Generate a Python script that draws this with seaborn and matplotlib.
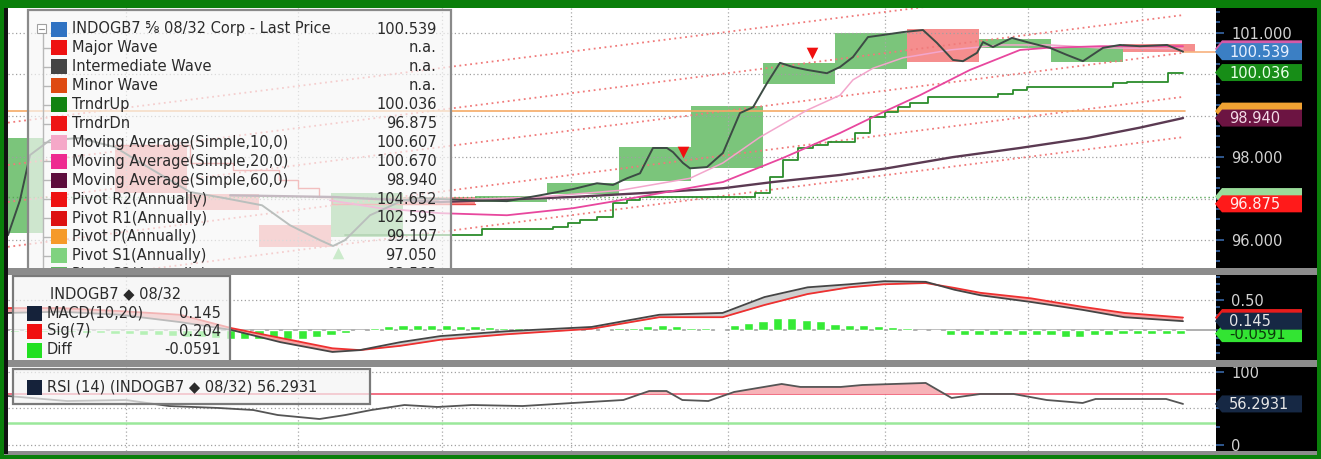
import numpy as np
import pandas as pd
import matplotlib
matplotlib.use("Agg")
import matplotlib.pyplot as plt
import matplotlib.transforms as mtransforms
from matplotlib.patches import Rectangle, Polygon
import seaborn as sns

sns.set_theme(style="white")
plt.rcParams['font.family'] = ['DejaVu Sans']

# ------------------------------------------------------------------ data
# x = trading day index
price_days = [-2.43, -1.6, -0.9, 0.49, 2.57, 5.0, 7.43, 10.21, 12.64, 15.21, 17.15, 19.24, 20.14, 20.97,
              22.71, 25.0, 26.18, 27.57, 29.86, 32.22, 34.51, 36.81, 38.47, 39.58, 40.56, 41.46, 42.36,
              43.33, 43.75, 44.44, 44.93, 46.11, 47.22, 48.4, 49.31, 50.28, 51.18, 52.08, 53.06, 54.44,
              55.35, 56.25, 57.29, 58.33, 59.72, 61.11, 62.08, 63.19, 63.89, 64.86, 65.28, 65.97, 67.29,
              68.33, 69.93, 71.11, 72.22, 73.61, 74.79, 76.18, 78.06, 79.17]
price_vals = [96.12, 96.96, 98.05, 98.41, 98.46, 98.24, 97.73, 97.16, 97.01, 96.84, 96.36, 96.00, 95.86, 96.00,
              96.60, 96.96, 97.01, 96.99, 96.96, 96.94, 97.08, 97.23, 97.37, 97.33, 97.49, 97.61, 98.22,
              98.22, 98.12, 97.86, 97.73, 97.76, 98.10, 99.06, 99.20, 99.78, 100.27, 100.17, 100.10, 100.02,
              100.17, 100.41, 100.89, 100.94, 101.01, 101.06, 100.75, 100.34, 100.31, 100.51, 100.77, 100.65, 100.87,
              100.77, 100.63, 100.46, 100.31, 100.63, 100.70, 100.67, 100.70, 100.539]

# weekly blocks: start day, low, high, up(True)/down(False)
box_start = [-5, 5, 10, 15, 20, 25, 30, 35, 40, 45, 50, 55, 60, 65, 70, 75]
box_low = [96.17, 97.13, 96.72, 95.83, 96.07, 96.84, 96.92, 97.11, 97.42, 97.73, 99.76, 100.12, 100.29, 100.63, 100.29, 100.53]
box_high = [98.46, 98.29, 97.11, 96.36, 97.13, 97.04, 97.06, 97.37, 98.24, 99.23, 100.27, 100.99, 101.08, 100.84, 100.65, 100.72]
box_up = [True, False, False, False, True, False, True, True, True, True, True, True, False, True, True, False]

trndr_up_days = [20.97, 30.49, 35.42, 36.46, 37.29, 38.47, 39.58, 40.56, 41.46, 49.44, 50.49, 51.39, 52.43, 53.47,
                 54.51, 56.39, 57.43, 58.47, 59.38, 60.21, 61.46, 66.32, 67.36, 68.33, 74.31, 75.28, 78.13, 79.17]
trndr_up_vals = [96.12, 96.27, 96.31, 96.41, 96.48, 96.55, 96.89, 96.96, 97.04, 97.13, 97.52, 97.93, 98.22, 98.29,
                 98.36, 98.58, 98.96, 99.08, 99.20, 99.30, 99.45, 99.52, 99.61, 99.69, 99.78, 99.81, 100.036, 100.036]
trndr_dn_days = [5.0, 10.2, 13.2, 16.4, 17.7, 19.2, 20.1, 30.0]
trndr_dn_vals = [98.30, 97.85, 97.70, 97.45, 97.25, 97.05, 96.875, 96.875]

ma10_days = [27.57, 34.51, 40.07, 44.93, 47.22, 49.79, 53.06, 55.35, 56.25, 57.64, 59.72, 62.99, 66.46, 69.93, 73.4, 79.17]
ma10_vals = [96.96, 97.04, 97.20, 97.49, 97.86, 98.48, 99.13, 99.49, 99.86, 100.14, 100.39, 100.58, 100.70, 100.70, 100.63, 100.607]
ma20_days = [19.93, 23.4, 27.57, 32.22, 36.81, 40.07, 47.22, 51.39, 55.35, 58.33, 60.9, 64.38, 67.85, 69.72, 73.4, 79.17]
ma20_vals = [96.96, 96.77, 96.65, 96.60, 96.77, 96.96, 97.40, 97.98, 98.58, 99.08, 99.49, 100.10, 100.58, 100.63, 100.67, 100.670]
ma60_days = [13.0, 20.1, 27.57, 36.81, 41.46, 47.22, 50.69, 55.35, 58.61, 63.19, 67.85, 72.5, 76.18, 79.17]
ma60_vals = [97.08, 97.04, 96.92, 97.04, 97.13, 97.25, 97.40, 97.57, 97.73, 98.00, 98.22, 98.46, 98.71, 98.940]

# parallel dotted trend channel lines: values at the left edge and at the last day
trend_days = [-2.43, 79.17]
trend_a = [98.83, 102.40]
trend_b = [97.81, 101.42]
trend_c = [96.92, 100.51]
trend_d = [95.84, 99.45]
trend_e = [94.87, 98.48]

pivot_p = 99.107
pivot_s1 = 97.05
last_price = 100.539
ma10_last = 100.607
sell_days, sell_vals = [44.44, 53.4], [98.12, 100.51]
buy_days, buy_vals = [20.5], [95.69]

grid_days = [5.76, 17.7, 27.7, 36.7, 47.6, 58.5, 68.4, 76.3]

macd_days = [-2.43, 1.18, 5.35, 9.51, 13.1, 16.5, 20.1, 22.0, 24.8, 27.6, 32.2, 38.1, 42.8, 47.2, 50.1,
             53.1, 56.0, 58.4, 61.3, 63.3, 65.1, 68.6, 72.2, 75.1, 79.17]
macd_vals = [0.28, 0.30, 0.25, 0.13, 0.0, -0.20, -0.36, -0.33, -0.20, -0.10, -0.02, 0.05, 0.25, 0.28, 0.54,
             0.70, 0.75, 0.80, 0.79, 0.66, 0.57, 0.46, 0.33, 0.21, 0.145]
sig_vals = [0.36, 0.36, 0.31, 0.25, 0.03, -0.13, -0.30, -0.33, -0.26, -0.16, -0.07, 0.02, 0.21, 0.21, 0.41,
            0.59, 0.70, 0.75, 0.77, 0.69, 0.61, 0.52, 0.38, 0.28, 0.204]
diff_days = list(range(-2, 80))
diff_vals = [-0.03, -0.03, -0.04, -0.04, -0.04, -0.05, -0.05, -0.06, -0.07, -0.08, -0.09, -0.10, -0.11, -0.12,
             -0.13, -0.14, -0.15, -0.15, -0.16, -0.15, -0.14, -0.12, -0.09, -0.05, -0.01, 0.03, 0.06, 0.08,
             0.09, 0.09, 0.08, 0.07, 0.06, 0.05, 0.04, 0.03, 0.02, 0.02, 0.01, 0.01, 0.02, 0.02, 0.03, 0.04,
             0.07, 0.08, 0.07, 0.04, 0.03, 0.02, 0.08, 0.12, 0.15, 0.20, 0.19, 0.17, 0.14, 0.10, 0.08, 0.08,
             0.07, 0.05, 0.03, 0.0, -0.01, -0.08, -0.09, -0.09, -0.08, -0.08, -0.08, -0.08, -0.09, -0.11,
             -0.11, -0.09, -0.08, -0.07, -0.06, -0.06, -0.06, -0.059]

rsi_days = [-2.43, 1.67, 5.76, 8.75, 12.2, 14.6, 16.3, 19.2, 21.0, 22.8, 25.1, 27.4, 29.8, 33.3, 36.8, 40.3,
            42.1, 43.3, 44.4, 46.2, 48.0, 51.3, 52.6, 55.4, 56.9, 61.3, 63.1, 65.1, 67.4, 69.7, 72.2, 73.1, 78.0, 79.17]
rsi_vals = [67.2, 60.3, 61.7, 53.4, 50.7, 47.9, 41.0, 35.5, 41.0, 47.9, 54.8, 52.1, 54.8, 53.4, 57.6, 61.7,
            74.1, 74.1, 61.7, 60.3, 72.8, 83.8, 79.7, 79.7, 82.4, 85.2, 64.5, 70.0, 70.0, 61.7, 57.6, 63.1, 63.1, 56.29]
rsi_hi, rsi_lo = 70, 30

legend_labels = ["INDOGB7 \u215d 08/32 Corp - Last Price", "Major Wave", "Intermediate Wave", "Minor Wave",
                 "TrndrUp", "TrndrDn", "Moving Average(Simple,10,0)", "Moving Average(Simple,20,0)",
                 "Moving Average(Simple,60,0)", "Pivot R2(Annually)", "Pivot R1(Annually)",
                 "Pivot P(Annually)", "Pivot S1(Annually)", "Pivot S2(Annually)"]
legend_values = ["100.539", "n.a.", "n.a.", "n.a.", "100.036", "96.875", "100.607", "100.670", "98.940",
                 "104.652", "102.595", "99.107", "97.050", "93.563"]
legend_colors = ["#2f72c2", "#ee1212", "#454545", "#de4a12", "#128212", "#ee1515", "#f5a8c8", "#ee2a90",
                 "#5c0c3c", "#ee1212", "#dd1111", "#f59a2a", "#7fd27f", "#5fb35f"]

# ------------------------------------------------------------------ figure
W, H = 1321, 459
fig = plt.figure(figsize=(W / 100, H / 100), dpi=100, facecolor='#0a7f0a')
PX = mtransforms.Affine2D().scale(1 / W, -1 / H).translate(0, 1) + fig.transFigure

MAIN_BOX = (8, 8, 1216, 268)
MACD_BOX = (8, 275, 1216, 360)
RSI_BOX = (8, 367, 1216, 451)
XMIN, XMAX = -2.43, 81.46
MAIN_LIM = (95.33, 101.59)
MACD_LIM = (-0.492, 0.902)
RSI_LIM = (-8.6, 107.2)


def add_ax(box):
    x0, y0, x1, y1 = box
    return fig.add_axes([x0 / W, 1 - y1 / H, (x1 - x0) / W, (y1 - y0) / H])


def setup(ax):
    ax.set_facecolor('white')
    for s in ax.spines.values():
        s.set_visible(False)
    ax.set_xticks([])
    ax.yaxis.tick_right()
    ax.tick_params(axis='y', which='both', colors='#3d6fb5', labelcolor='#d2d2d2', labelsize=10.5,
                   direction='out', length=6, width=1.1, pad=5, right=True, left=False)
    ax.tick_params(axis='y', which='minor', length=3)
    for d in grid_days:
        ax.axvline(d, color='#a8a8a8', lw=0.9, ls=(0, (1, 2)), zorder=1.5)


# black right-axis strip
fig.add_artist(Rectangle((1216, 8), 101, 446, transform=PX, fc='black', ec='none', zorder=-1))

ax_main = add_ax(MAIN_BOX)
ax_macd = add_ax(MACD_BOX)
ax_rsi = add_ax(RSI_BOX)
for a in (ax_main, ax_macd, ax_rsi):
    setup(a)

# ---------------- main panel
for v in [96, 97, 98, 99, 100, 101]:
    ax_main.axhline(v, color='#a0a0a0', lw=0.9, ls=(0, (1, 2)), zorder=1.5)
for s, lo, hi, up in zip(box_start, box_low, box_high, box_up):
    ax_main.add_patch(Rectangle((s, lo), 5, hi - lo, fc='#74c274' if up else '#f58888',
                                ec='none', alpha=0.95, zorder=1))
for tl in (trend_a, trend_b, trend_c, trend_d, trend_e):
    ax_main.plot(trend_days, tl, color='#f07a7a', lw=1.3, ls=(0, (1, 2)), zorder=2)
ax_main.plot([XMIN, 79.3], [pivot_p, pivot_p], color='#f5aa66', lw=1.2, zorder=2)
ax_main.plot([XMIN, XMAX], [pivot_s1, pivot_s1], color='#5aa85a', lw=1.0, ls=(0, (1, 2)), zorder=2)
ax_main.plot([79.17, XMAX], [last_price, last_price], color='#f7b27e', lw=1.2, zorder=2)

ax_main.step(trndr_dn_days, trndr_dn_vals, where='post', color='#e84a4a', lw=1.0, zorder=3)
ax_main.step(trndr_up_days, trndr_up_vals, where='post', color='#2b8c2b', lw=1.3, zorder=3)
sns.lineplot(x=ma60_days, y=ma60_vals, ax=ax_main, color='#5b3a52', lw=1.7, sort=False, legend=False, zorder=3)
sns.lineplot(x=ma10_days, y=ma10_vals, ax=ax_main, color='#f3a6cc', lw=1.1, sort=False, legend=False, zorder=3)
sns.lineplot(x=ma20_days, y=ma20_vals, ax=ax_main, color='#e8479e', lw=1.3, sort=False, legend=False, zorder=3)
sns.lineplot(x=price_days, y=price_vals, ax=ax_main, color='#3c4b44', lw=1.4, sort=False, legend=False, zorder=4)
ax_main.scatter(sell_days, sell_vals, marker='v', s=70, color='#f01010', zorder=5, linewidths=0)
ax_main.scatter(buy_days, buy_vals, marker='^', s=70, color='#70d070', zorder=5, linewidths=0)

ax_main.set_yticks([96, 97, 98, 99, 100, 101])
ax_main.set_yticklabels(['96.000', '', '98.000', '', '', '101.000'])
ax_main.set_yticks(np.arange(95.5, 101.6, 0.25), minor=True)

# ---------------- MACD panel
ax_macd.axhline(0.5, color='#a0a0a0', lw=0.9, ls=(0, (1, 2)), zorder=1.5)
ax_macd.axhline(0.0, color='#9a9a9a', lw=1.1, zorder=1.6)
ax_macd.bar(diff_days, diff_vals, width=0.64, color='#36ea36', zorder=2)
m = np.array(macd_vals)
sg = np.array(sig_vals)
ax_macd.fill_between(macd_days, m, sg, where=sg >= m, interpolate=True, color='#f6a3a3', lw=0, zorder=2.5)
ax_macd.fill_between(macd_days, m, sg, where=m > sg, interpolate=True, color='#cfcfcf', lw=0, zorder=2.5)
sns.lineplot(x=macd_days, y=sig_vals, ax=ax_macd, color='#ee3030', lw=1.3, sort=False, legend=False, zorder=3)
sns.lineplot(x=macd_days, y=macd_vals, ax=ax_macd, color='#454545', lw=1.3, sort=False, legend=False, zorder=3)
ax_macd.set_yticks([0.5])
ax_macd.set_yticklabels(['0.50'])
ax_macd.set_yticks(np.arange(-0.375, 0.9, 0.125), minor=True)

# ---------------- RSI panel
for v in [0, 50, 100]:
    ax_rsi.axhline(v, color='#a0a0a0', lw=0.9, ls=(0, (1, 2)), zorder=1.5)
ax_rsi.axhline(rsi_hi, color='#f0647a', lw=1.3, zorder=2)
ax_rsi.axhline(rsi_lo, color='#9be89b', lw=1.8, zorder=2)
r = np.array(rsi_vals)
ax_rsi.fill_between(rsi_days, r, rsi_hi, where=r > rsi_hi, interpolate=True, color='#f7b3b8', lw=0, zorder=2.2)
sns.lineplot(x=rsi_days, y=rsi_vals, ax=ax_rsi, color='#555555', lw=1.3, sort=False, legend=False, zorder=3)
ax_rsi.set_yticks([0, 50, 100])
ax_rsi.set_yticklabels(['0', '', '100'])
ax_rsi.set_yticks(np.arange(0, 101, 25), minor=True)

for a, lim in ((ax_main, MAIN_LIM), (ax_macd, MACD_LIM), (ax_rsi, RSI_LIM)):
    a.set_xlim(XMIN, XMAX)
    a.set_ylim(*lim)
    a.set_xlabel('')
    a.set_ylabel('')

TXT = '#2b2b2b'

# ---------------- main legend
ax_main.add_patch(Rectangle((28, 10), 423, 280, transform=PX, fc='#f7f7f7', alpha=0.68, ec='none', zorder=10))
ax_main.add_patch(Rectangle((28, 10), 423, 280, transform=PX, fc='none', ec='#8a8a8a', lw=1.6, zorder=10.5))
ax_main.plot([43, 43], [34, 290], transform=PX, color='#b8b8b8', lw=1, zorder=11)
ax_main.add_patch(Rectangle((37, 24), 9, 9, transform=PX, fc='white', ec='#a0a0a0', lw=0.8, zorder=11.5))
ax_main.plot([39, 44], [28.5, 28.5], transform=PX, color='#909090', lw=0.8, zorder=11.6)
for i, (lab, val, col) in enumerate(zip(legend_labels, legend_values, legend_colors)):
    y = 29 + 18.9 * i
    if i > 0:
        ax_main.plot([43, 50], [y, y], transform=PX, color='#b8b8b8', lw=1, zorder=11)
    ax_main.add_patch(Rectangle((51, y - 7.5), 16, 15, transform=PX, fc=col, ec='none', zorder=12))
    ax_main.text(72, y, lab, transform=PX, ha='left', va='center', fontsize=10.5, color=TXT, zorder=13, clip_on=True)
    ax_main.text(437, y, val, transform=PX, ha='right', va='center', fontsize=10.5, color=TXT, zorder=13, clip_on=True)

# ---------------- MACD legend
ax_macd.add_patch(Rectangle((13, 276), 217, 86, transform=PX, fc='#f4f4f4', alpha=0.68, ec='none', zorder=10))
ax_macd.add_patch(Rectangle((13, 276), 217, 86, transform=PX, fc='none', ec='#7a7a7a', lw=1.6, zorder=10.5))
ax_macd.text(50, 294, "INDOGB7 \u25c6 08/32", transform=PX, ha='left', va='center', fontsize=10.5, color=TXT, zorder=13)
for y, lab, val, col in ((313, "MACD(10,20)", "0.145", "#15223a"), (331, "Sig(7)", "0.204", "#f01010"),
                         (350, "Diff", "-0.0591", "#22e022")):
    ax_macd.add_patch(Rectangle((27, y - 7.5), 15, 15, transform=PX, fc=col, ec='none', zorder=12))
    ax_macd.text(47, y, lab, transform=PX, ha='left', va='center', fontsize=10.5, color=TXT, zorder=13)
    ax_macd.text(221, y, val, transform=PX, ha='right', va='center', fontsize=10.5, color=TXT, zorder=13)

# ---------------- RSI legend
ax_rsi.add_patch(Rectangle((13, 369), 357, 35, transform=PX, fc='#f4f4f4', alpha=0.7, ec='none', zorder=10))
ax_rsi.add_patch(Rectangle((13, 369), 357, 35, transform=PX, fc='none', ec='#7a7a7a', lw=1.6, zorder=10.5))
ax_rsi.add_patch(Rectangle((27, 380), 15, 15, transform=PX, fc='#15223a', ec='none', zorder=12))
ax_rsi.text(47, 387.5, "RSI (14) (INDOGB7 \u25c6 08/32) 56.2931", transform=PX, ha='left', va='center',
            fontsize=10.5, color=TXT, zorder=13)


# ---------------- value tags on the right axis
def val_py(box, lim, v):
    return box[1] + (lim[1] - v) / (lim[1] - lim[0]) * (box[3] - box[1])


def tag(box, lim, v, fc, text=None, tc='white', z=3):
    py = val_py(box, lim, v)
    h = 8.5
    pts = [(1215, py), (1222, py - h), (1302, py - h), (1302, py + h), (1222, py + h)]
    fig.add_artist(Polygon(pts, closed=True, transform=PX, fc=fc, ec='none', zorder=z))
    if text:
        fig.text(1229, py + 0.5, text, transform=PX, ha='left', va='center', fontsize=10.5, color=tc, zorder=z + 0.1)


tag(MAIN_BOX, MAIN_LIM, ma10_last, '#d45aa8', z=3)
tag(MAIN_BOX, MAIN_LIM, pivot_p, '#f0a232', z=3.2)
tag(MAIN_BOX, MAIN_LIM, pivot_s1, '#9adc9a', z=3.2)
tag(MAIN_BOX, MAIN_LIM, last_price, '#3b7fc4', '100.539', '#e8f0ff', z=4)
tag(MAIN_BOX, MAIN_LIM, 100.036, '#178d17', '100.036', '#eaffea', z=4.2)
tag(MAIN_BOX, MAIN_LIM, 98.940, '#6c1442', '98.940', '#f3dbe7', z=4.4)
tag(MAIN_BOX, MAIN_LIM, 96.875, '#ff1a1a', '96.875', '#ffecec', z=4.6)

tag(MACD_BOX, MACD_LIM, -0.0591, '#33e433', '-0.0591', '#0b3a0b', z=3)
tag(MACD_BOX, MACD_LIM, 0.204, '#e81c1c', z=3.3)
tag(MACD_BOX, MACD_LIM, 0.145, '#162844', '0.145', '#e6e6e6', z=3.6)
tag(RSI_BOX, RSI_LIM, 56.2931, '#162844', '56.2931', '#e6e6e6', z=3.6)

# ---------------- panel separators and frame
for y0, hgt in ((268, 7), (360, 7), (451, 4)):
    fig.add_artist(Rectangle((4, y0), 1313, hgt, transform=PX, fc='#8c8c8c', ec='none', zorder=20))
fig.add_artist(Rectangle((4, 8), 4, 446, transform=PX, fc='#111111', ec='none', zorder=20))

fig.savefig('out.png', dpi=100, facecolor=fig.get_facecolor())
